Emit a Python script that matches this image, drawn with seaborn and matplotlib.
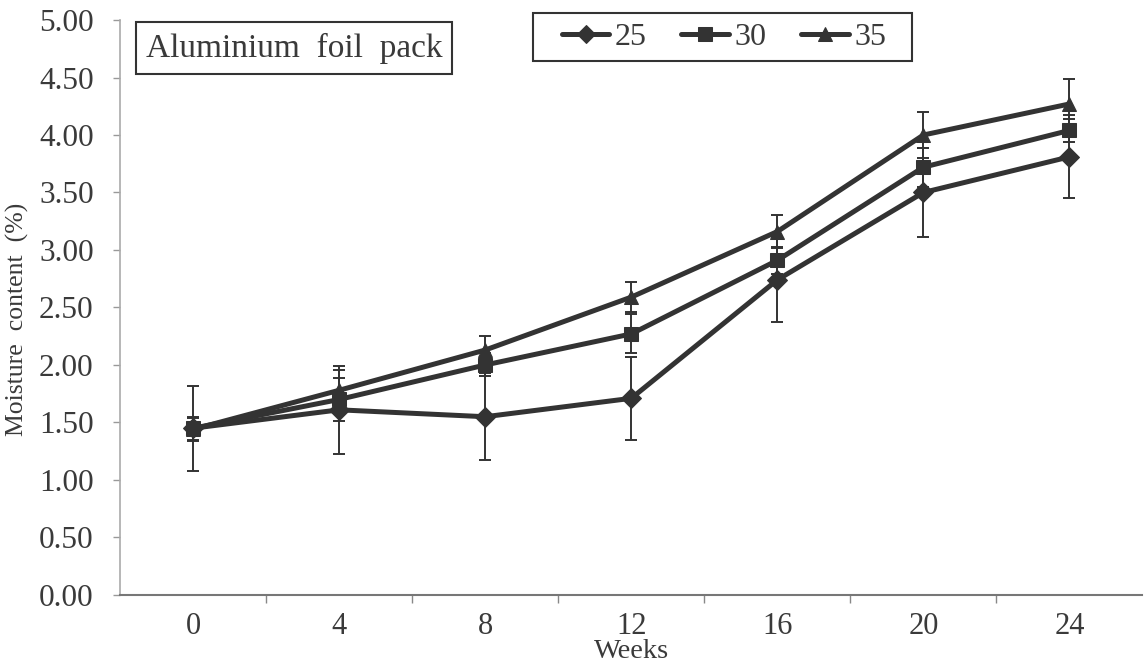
import matplotlib
matplotlib.use("Agg")
import matplotlib.pyplot as plt
from matplotlib.patches import Rectangle
import seaborn as sns
import pandas as pd

# Storage weeks and moisture content (%) per storage temperature
weeks = [0, 4, 8, 12, 16, 20, 24]
temps = ["25", "30", "35"]
moist_25 = [1.45, 1.61, 1.55, 1.71, 2.74, 3.50, 3.81]
moist_30 = [1.45, 1.70, 2.00, 2.27, 2.91, 3.72, 4.04]
moist_35 = [1.44, 1.78, 2.13, 2.59, 3.16, 4.00, 4.27]
err_25 = [0.37, 0.38, 0.38, 0.36, 0.37, 0.39, 0.36]
err_30 = [0.10, 0.19, 0.10, 0.17, 0.12, 0.17, 0.10]
err_35 = [0.10, 0.18, 0.12, 0.13, 0.14, 0.20, 0.22]
y_ticks = [0.0, 0.5, 1.0, 1.5, 2.0, 2.5, 3.0, 3.5, 4.0, 4.5, 5.0]

sns.set_theme(style="white")
plt.rcParams["font.family"] = ["Liberation Serif", "DejaVu Serif"]

ink = "#333333"
text_col = "#3a3a3a"

df = pd.DataFrame({
    "Weeks": weeks * 3,
    "Moisture": moist_25 + moist_30 + moist_35,
    "Temp": [t for t in temps for _ in weeks],
})
errs = {"25": err_25, "30": err_30, "35": err_35}

fig = plt.figure(figsize=(11.45, 6.67), dpi=100)
ax = fig.add_axes([0.1048, 0.108, 0.893, 0.862])

markers = {"25": "D", "30": "s", "35": "^"}

# error bars sit under the lines
for t in temps:
    sub = df[df["Temp"] == t]
    ax.errorbar(sub["Weeks"], sub["Moisture"], yerr=errs[t], fmt="none",
                ecolor=ink, elinewidth=1.4, capsize=4.5, capthick=1.4, zorder=1)

sns.lineplot(data=df, x="Weeks", y="Moisture", hue="Temp", style="Temp",
             palette={t: ink for t in temps}, markers=markers, dashes=False,
             linewidth=3.6, markersize=10, markeredgecolor=ink, ax=ax, zorder=3)

ax.set_xlim(-2, 26)
ax.set_ylim(0, 5.0)
ax.set_xticks(weeks)
ax.set_xticklabels([str(w) for w in weeks])
ax.set_xticks([w + 2 for w in weeks[:-1]], minor=True)
ax.set_yticks(y_ticks)
ax.set_yticklabels([f"{v:.2f}" for v in y_ticks])

ax.tick_params(axis="x", which="major", length=0, pad=12, labelsize=22, labelcolor=text_col)
ax.tick_params(axis="x", which="minor", length=6, width=1, color="#888888", direction="out", bottom=True)
ax.tick_params(axis="y", which="major", length=5, width=1, color="#999999", direction="out", left=True,
               labelsize=22.5, labelcolor=text_col, pad=14)

for s in ["top", "right"]:
    ax.spines[s].set_visible(False)
ax.spines["left"].set_color("#aaaaaa")
ax.spines["left"].set_linewidth(1.2)
ax.spines["bottom"].set_color("#777777")
ax.spines["bottom"].set_linewidth(1.5)

ax.set_xlabel("Weeks", fontsize=20.5, color=text_col)
ax.xaxis.set_label_coords(0.5, -0.077)
ax.set_ylabel("Moisture  content  (%)", fontsize=18.5, color=text_col)
ax.yaxis.set_label_coords(-0.089, 0.48)

# legend: one row of line+marker samples inside a plain rectangle
leg_box = Rectangle((0.4037, 0.9287), 0.3705, 0.0835, transform=ax.transAxes,
                    facecolor="white", edgecolor=ink, linewidth=1.5, clip_on=False, zorder=4)
ax.add_patch(leg_box)
leg = ax.legend(title=None, loc="center", bbox_to_anchor=(0.5905, 0.9704), ncol=3,
                frameon=False, fontsize=23, handlelength=1.5, markerscale=0.95,
                handletextpad=0.15, columnspacing=1.1, borderpad=0.2)
leg.set_zorder(5)
for txt in leg.get_texts():
    txt.set_color(text_col)

# panel label in its own box
title_box = Rectangle((0.0156, 0.906), 0.3089, 0.0905, transform=ax.transAxes,
                      facecolor="white", edgecolor=ink, linewidth=1.5, clip_on=False, zorder=4)
ax.add_patch(title_box)
ax.text(0.170, 0.951, "Aluminium  foil  pack", transform=ax.transAxes, fontsize=24,
        color=text_col, va="center", ha="center", zorder=5)

fig.savefig("out.png", dpi=100)
